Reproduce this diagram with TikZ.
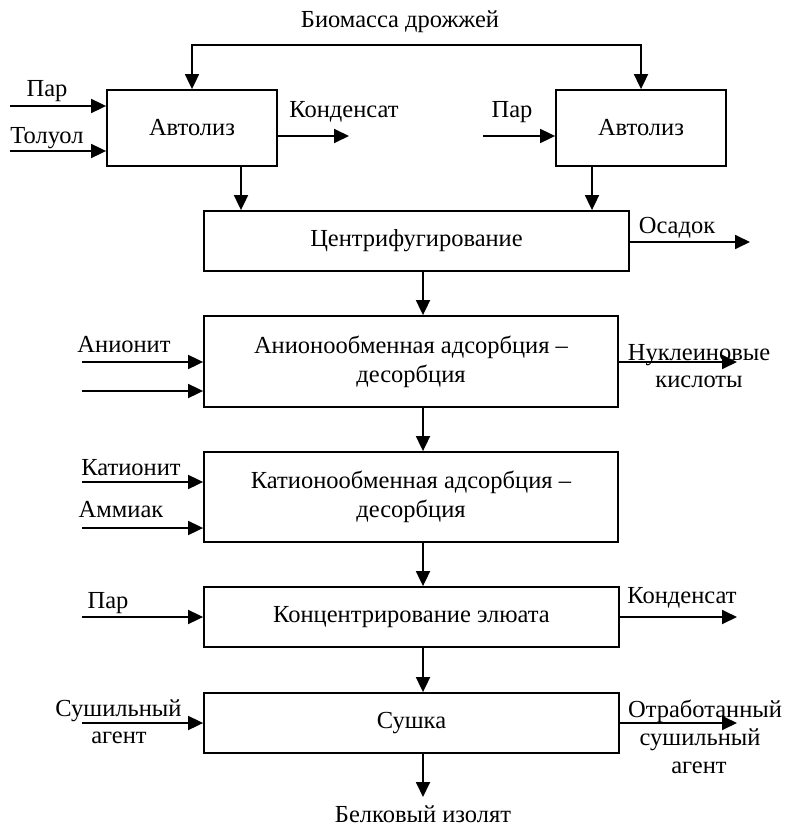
\documentclass[tikz,border=0pt]{standalone}
\usepackage{fontspec}
\setmainfont{Liberation Serif}
\usetikzlibrary{arrows.meta}
\tikzset{
  x=1pt, y=-1pt,
  every node/.style={font=\fontsize{24.5}{29}\selectfont, inner sep=0pt},
  proc/.style={draw, line width=1.8pt, align=center},
  flow/.style={line width=1.8pt, -{Triangle[length=15pt,width=14pt]}},
  lbl/.style={anchor=base, align=center}
}
\begin{document}
\begin{tikzpicture}
\useasboundingbox (0,0) rectangle (784,829);

% process boxes
\node[proc, minimum width=170pt, minimum height=76pt] (A1) at (192,128) {Автолиз};
\node[proc, minimum width=170pt, minimum height=76pt] (A2) at (641,128) {Автолиз};
\node[proc, minimum width=425pt, minimum height=60pt] (C) at (416.5,241) {Центрифугирование};
\node[proc, minimum width=414pt, minimum height=91pt] (AN) at (411,361.5) {Анионообменная адсорбция –\\десорбция};
\node[proc, minimum width=414pt, minimum height=90pt] (KT) at (411,497) {Катионообменная адсорбция –\\десорбция};
\node[proc, minimum width=415pt, minimum height=60pt] (KO) at (411.5,617) {Концентрирование элюата};
\node[proc, minimum width=415pt, minimum height=60pt] (SU) at (411.5,723) {Сушка};

% helper points
\coordinate (bus) at (416,45);
\coordinate (sp) at (423,0);
\coordinate (dL) at (241,0);
\coordinate (dR) at (592,0);

% yeast biomass feed
\node[lbl] (bio) at (400,28) {Биомасса дрожжей};
\draw[flow] (bus) -| (A1.north);
\draw[flow] (bus) -| (A2.north);

% autolysis inputs and outputs
\coordinate (par1) at (10,106);
\coordinate (tol) at (10,151);
\draw[flow] (par1) -- (par1 -| A1.west);
\draw[flow] (tol) -- (tol -| A1.west);
\node[lbl] (tpar1) at (47,97) {Пар};
\node[lbl] (ttol) at (47,144) {Толуол};
\coordinate (kon1) at (349,136);
\draw[flow] (kon1 -| A1.east) -- (kon1);
\node[lbl] (tkon1) at (344,118) {Конденсат};
\coordinate (par2) at (483,136);
\draw[flow] (par2) -- (par2 -| A2.west);
\node[lbl] (tpar2) at (512,118) {Пар};

\draw[flow] (A1.south -| dL) -- (C.north -| dL);
\draw[flow] (A2.south -| dR) -- (C.north -| dR);

% centrifugation
\coordinate (osa) at (750,242);
\draw[flow] (osa -| C.east) -- (osa);
\node[lbl] (tosa) at (677,233) {Осадок};
\draw[flow] (C.south -| sp) -- (AN.north -| sp);

% anion exchange
\coordinate (an1) at (82,362);
\coordinate (an2) at (82,391);
\draw[flow] (an1) -- (an1 -| AN.west);
\draw[flow] (an2) -- (an2 -| AN.west);
\node[lbl] (tan) at (124,352) {Анионит};
\coordinate (nuk) at (737,362);
\draw[flow] (nuk -| AN.east) -- (nuk);
\node[lbl] (tnuk) at (699,360) {Нуклеиновые};
\node[lbl] (tkis) at (699,387) {кислоты};
\draw[flow] (AN.south -| sp) -- (KT.north -| sp);

% cation exchange
\coordinate (kt1) at (82,482);
\coordinate (kt2) at (82,528);
\draw[flow] (kt1) -- (kt1 -| KT.west);
\draw[flow] (kt2) -- (kt2 -| KT.west);
\node[lbl] (tkt) at (131,475) {Катионит};
\node[lbl] (tam) at (121,517) {Аммиак};
\draw[flow] (KT.south -| sp) -- (KO.north -| sp);

% eluate concentration
\coordinate (par3) at (82,617);
\draw[flow] (par3) -- (par3 -| KO.west);
\node[lbl] (tpar3) at (108,608) {Пар};
\coordinate (kon2) at (737,617);
\draw[flow] (kon2 -| KO.east) -- (kon2);
\node[lbl] (tkon2) at (682,603) {Конденсат};
\draw[flow] (KO.south -| sp) -- (SU.north -| sp);

% drying
\coordinate (ag1) at (82,723);
\draw[flow] (ag1) -- (ag1 -| SU.west);
\node[lbl] (tsu1) at (118.5,716) {Сушильный};
\node[lbl] (tsu2) at (119,743) {агент};
\coordinate (ag2) at (737,723);
\draw[flow] (ag2 -| SU.east) -- (ag2);
\node[lbl] (tot1) at (705,717) {Отработанный};
\node[lbl] (tot2) at (700,745) {сушильный};
\node[lbl] (tot3) at (699,773) {агент};
\coordinate (out) at (423,797);
\draw[flow] (SU.south -| sp) -- (out);
\node[lbl] (tbel) at (423,822) {Белковый изолят};
\end{tikzpicture}
\end{document}
